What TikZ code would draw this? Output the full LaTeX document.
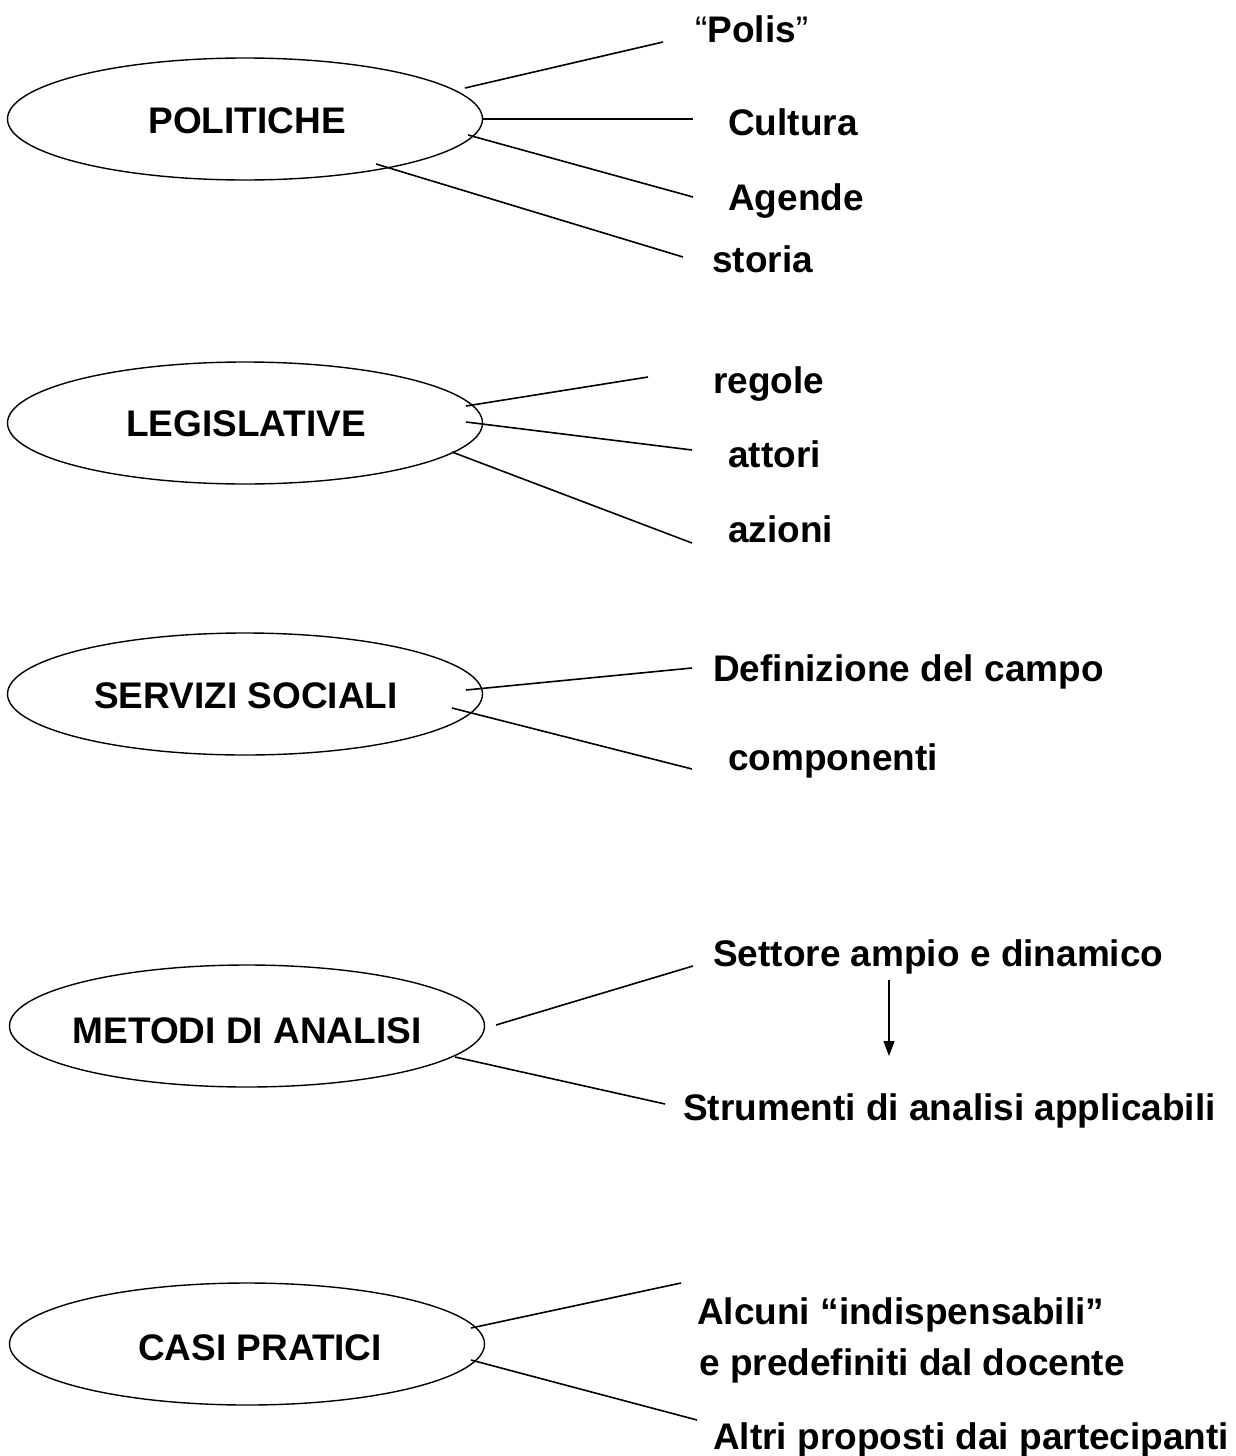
\documentclass[tikz,border=0pt]{standalone}
\usepackage{fontspec}
\setmainfont{Liberation Sans}
\usetikzlibrary{shapes.geometric,arrows.meta}
\begin{document}
\begin{tikzpicture}[x=1pt,y=-1pt,
  topic/.style={ellipse,draw,line width=1.4pt,minimum width=475pt,minimum height=122pt,inner sep=0pt},
  ttext/.style={anchor=base,font=\fontsize{37}{44}\selectfont\bfseries,inner sep=0pt},
  leaf/.style={anchor=base west,font=\fontsize{37}{44}\selectfont\bfseries,inner sep=0pt},
  conn/.style={line width=1.6pt}]
\useasboundingbox (0,0) rectangle (1235,1456);
% POLITICHE
\node[topic] (pol) at (245,119) {};
\node[ttext] (polt) at (247,133) {POLITICHE};
\node[leaf] (polis) at (695,42) {{\mdseries “}Polis{\mdseries ”}};
\node[leaf] (cult) at (728,135) {Cultura};
\node[leaf] (agen) at (728,210) {Agende};
\node[leaf] (stor) at (712,272) {storia};
\coordinate (p1a) at (465,88); \coordinate (p1b) at (663,42);
\coordinate (p2a) at (483,119); \coordinate (p2b) at (693,119);
\coordinate (p3a) at (468,135); \coordinate (p3b) at (693,197);
\coordinate (p4a) at (376,164); \coordinate (p4b) at (683,257);
\draw[conn] (p1a) -- (p1b);
\draw[conn] (p2a) -- (p2b);
\draw[conn] (p3a) -- (p3b);
\draw[conn] (p4a) -- (p4b);
% LEGISLATIVE
\node[topic] (leg) at (245,423) {};
\node[ttext] (legt) at (246,436) {LEGISLATIVE};
\node[leaf] (rego) at (713,393) {regole};
\node[leaf] (atto) at (728,467) {attori};
\node[leaf] (azio) at (728,542) {azioni};
\coordinate (l1a) at (466,406); \coordinate (l1b) at (648,377);
\coordinate (l2a) at (466,422); \coordinate (l2b) at (692,450);
\coordinate (l3a) at (452,452); \coordinate (l3b) at (692,543);
\draw[conn] (l1a) -- (l1b);
\draw[conn] (l2a) -- (l2b);
\draw[conn] (l3a) -- (l3b);
% SERVIZI SOCIALI
\node[topic] (ser) at (245,694) {};
\node[ttext] (sert) at (246,708) {SERVIZI SOCIALI};
\node[leaf] (defi) at (713,681) {Definizione del campo};
\node[leaf] (comp) at (728,770) {componenti};
\coordinate (s1a) at (466,690); \coordinate (s1b) at (692,668);
\coordinate (s2a) at (452,708); \coordinate (s2b) at (692,769);
\draw[conn] (s1a) -- (s1b);
\draw[conn] (s2a) -- (s2b);
% METODI DI ANALISI
\node[topic] (met) at (247,1026) {};
\node[ttext] (mett) at (247,1043) {METODI DI ANALISI};
\node[leaf] (sett) at (713,966) {Settore ampio e dinamico};
\node[leaf] (stru) at (683,1120) {Strumenti di analisi applicabili};
\coordinate (m1a) at (496,1025); \coordinate (m1b) at (693,966);
\coordinate (m2a) at (455,1057); \coordinate (m2b) at (665,1104);
\coordinate (arra) at (889,980); \coordinate (arrb) at (889,1056);
\draw[conn] (m1a) -- (m1b);
\draw[conn] (m2a) -- (m2b);
\draw[line width=1.4pt,-{Triangle[length=15pt,width=11pt]}] (arra) -- (arrb);
% CASI PRATICI
\node[topic] (cas) at (247,1344) {};
\node[ttext] (cast) at (260,1360) {CASI PRATICI};
\node[leaf] (alcu) at (697,1324) {Alcuni “indispensabili”};
\node[leaf] (pred) at (699,1375) {e predefiniti dal docente};
\node[leaf] (altr) at (713,1449) {Altri proposti dai partecipanti};
\coordinate (c1a) at (471,1328); \coordinate (c1b) at (681,1283);
\coordinate (c2a) at (471,1360); \coordinate (c2b) at (697,1420);
\draw[conn] (c1a) -- (c1b);
\draw[conn] (c2a) -- (c2b);
\end{tikzpicture}
\end{document}
